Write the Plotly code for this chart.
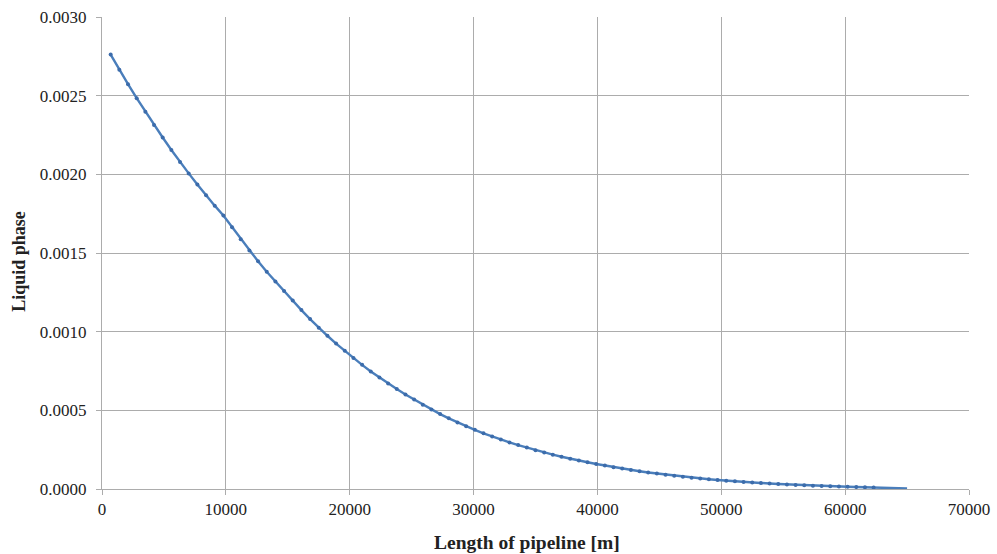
import plotly.graph_objects as go

# Marker data: length along pipeline [m] and liquid phase fraction
length_m = [700 * k for k in range(1, 90)]
liquid_phase = [
    0.002761, 0.002665, 0.002573, 0.002484, 0.002398, 0.002314, 0.002234,
    0.002155, 0.002079, 0.002006, 0.001936, 0.001867, 0.001801, 0.001738,
    0.001664, 0.001588, 0.001516, 0.001447, 0.001381, 0.001319, 0.001259,
    0.001198, 0.001137, 0.001080, 0.001025, 0.000974, 0.000924, 0.000878,
    0.000833, 0.000789, 0.000747, 0.000708, 0.000670, 0.000635, 0.000601,
    0.000569, 0.000536, 0.000505, 0.000476, 0.000449, 0.000423, 0.000399,
    0.000376, 0.000354, 0.000334, 0.000314, 0.000296, 0.000279, 0.000263,
    0.000247, 0.000232, 0.000218, 0.000205, 0.000192, 0.000181, 0.000170,
    0.000159, 0.000149, 0.000139, 0.000130, 0.000121, 0.000113, 0.000105,
    0.0000983, 0.0000911, 0.0000843, 0.0000780, 0.0000722, 0.0000668,
    0.0000618, 0.0000572, 0.0000527, 0.0000485, 0.0000446, 0.0000410,
    0.0000377, 0.0000346, 0.0000318, 0.0000290, 0.0000262, 0.0000237,
    0.0000214, 0.0000193, 0.0000174, 0.0000157, 0.0000141, 0.0000124,
    0.0000109, 0.0000097,
]

# Trend line extension beyond the last data point
trend_ext_x = [63000, 64000, 65000]
trend_ext_y = [0.0000080, 0.0000055, 0.0000030]

x_ticks = [0, 10000, 20000, 30000, 40000, 50000, 60000, 70000]
y_ticks = [0.0, 0.0005, 0.0010, 0.0015, 0.0020, 0.0025, 0.0030]

x_title = "Length of pipeline [m]"
y_title = "Liquid phase"

LINE = "#4a7ebb"
MARK = "#3c6cab"
GRID = "#acacac"
FONT = "Liberation Serif"

fig = go.Figure()
fig.add_trace(go.Scatter(
    x=length_m + trend_ext_x, y=liquid_phase + trend_ext_y,
    mode="lines", line=dict(color=LINE, width=2.4), hoverinfo="skip",
    showlegend=False,
))
fig.add_trace(go.Scatter(
    x=length_m, y=liquid_phase, mode="markers",
    marker=dict(color=MARK, size=4, symbol="circle"),
    showlegend=False,
))

fig.update_layout(
    width=997, height=554,
    margin=dict(l=102, r=28, t=17, b=65),
    paper_bgcolor="white", plot_bgcolor="white",
    font=dict(family=FONT, size=17, color="#222222"),
    xaxis=dict(
        range=[0, 70000], tickvals=x_ticks, ticktext=[str(v) for v in x_ticks],
        showgrid=True, gridcolor=GRID, gridwidth=1,
        showline=True, linecolor=GRID, linewidth=1,
        ticks="outside", ticklen=5, tickcolor=GRID,
        zeroline=False, automargin=False,
    ),
    yaxis=dict(
        range=[0, 0.0030], tickvals=y_ticks,
        ticktext=["%.4f" % v for v in y_ticks],
        showgrid=True, gridcolor=GRID, gridwidth=1,
        showline=True, linecolor=GRID, linewidth=1,
        ticks="outside", ticklen=5, tickcolor=GRID,
        ticklabelstandoff=6,
        zeroline=False, automargin=False,
    ),
    annotations=[
        dict(text="<b>%s</b>" % x_title, xref="paper", yref="paper",
             x=0.49, y=-0.1144, xanchor="center", yanchor="middle",
             showarrow=False, font=dict(family=FONT, size=19.5, color="#222222")),
        dict(text="<b>%s</b>" % y_title, xref="paper", yref="paper",
             x=-0.096, y=0.483, xanchor="center", yanchor="middle", textangle=-90,
             showarrow=False, font=dict(family=FONT, size=18, color="#222222")),
    ],
)

fig.write_html("out.html")
